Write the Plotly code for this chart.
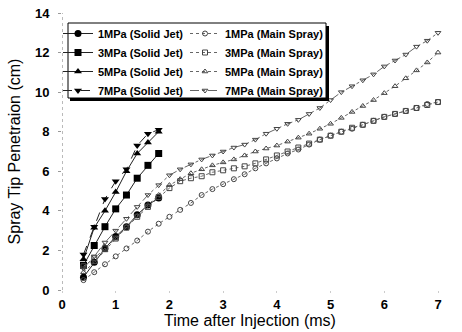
import plotly.graph_objects as go

# ---- data ----
t_solid = [0.4, 0.6, 0.8, 1.0, 1.2, 1.4, 1.6, 1.8]
solid_1mpa = [0.65, 1.4, 2.1, 2.7, 3.2, 3.8, 4.3, 4.65]
solid_3mpa = [1.25, 2.25, 3.2, 4.1, 4.8, 5.65, 6.3, 6.9]
solid_5mpa = [1.55, 3.15, 4.0, 4.95, 6.0, 6.9, 7.45, 8.0]
solid_7mpa = [1.8, 3.2, 4.6, 5.5, 6.1, 7.3, 7.9, 8.1]

t_main = [0.4, 0.6, 0.8, 1.0, 1.2, 1.4, 1.6, 1.8, 2.0, 2.2, 2.4, 2.6, 2.8, 3.0,
          3.2, 3.4, 3.6, 3.8, 4.0, 4.2, 4.4, 4.6, 4.8, 5.0, 5.2, 5.4, 5.6, 5.8,
          6.0, 6.2, 6.4, 6.6, 6.8, 7.0]
main_1mpa = [0.5, 0.9, 1.3, 1.7, 2.1, 2.5, 2.95, 3.35, 3.7, 4.05, 4.4, 4.8, 5.1, 5.35,
             5.6, 5.85, 6.15, 6.4, 6.65, 6.9, 7.1, 7.35, 7.6, 7.8, 8.0, 8.15, 8.35, 8.55,
             8.75, 8.9, 9.05, 9.2, 9.4, 9.5]
main_3mpa = [1.2, 1.6, 2.1, 2.6, 3.15, 3.7, 4.2, 4.7, 5.15, 5.5, 5.65, 5.75, 5.95, 6.05,
             6.15, 6.25, 6.4, 6.6, 6.8, 7.0, 7.2, 7.4, 7.6, 7.8, 8.0, 8.2, 8.35, 8.55,
             8.75, 8.9, 9.05, 9.2, 9.35, 9.5]
main_5mpa = [0.9, 1.4, 2.0, 2.6, 3.2, 3.75, 4.3, 4.8, 5.3, 5.6, 5.9, 6.1, 6.3, 6.45,
             6.6, 6.8, 7.0, 7.15, 7.3, 7.5, 7.7, 7.9, 8.15, 8.4, 8.7, 9.0, 9.3, 9.6,
             9.95, 10.3, 10.7, 11.1, 11.5, 12.0]
main_7mpa = [1.1, 1.7, 2.4, 3.0, 3.6, 4.2, 4.8, 5.3, 5.8, 6.1, 6.35, 6.6, 6.8, 7.0,
             7.2, 7.35, 7.6, 7.9, 8.15, 8.4, 8.6, 8.9, 9.2, 9.6, 10.0, 10.3, 10.6, 10.9,
             11.3, 11.6, 11.9, 12.3, 12.6, 13.0]

solid_names = ["1MPa (Solid Jet)", "3MPa (Solid Jet)", "5MPa (Solid Jet)", "7MPa (Solid Jet)"]
main_names = ["1MPa (Main Spray)", "3MPa (Main Spray)", "5MPa (Main Spray)", "7MPa (Main Spray)"]
y_ticks = [0, 2, 4, 6, 8, 10, 12, 14]
x_ticks = [0, 1, 2, 3, 4, 5, 6, 7]

FONT = "Liberation Sans, Arial, sans-serif"

fig = go.Figure()

solid_series = [solid_1mpa, solid_3mpa, solid_5mpa, solid_7mpa]
solid_symbols = ["circle", "square", "triangle-up", "triangle-down"]
solid_dash = ["solid", "solid", "solid", "dash"]
for name, ys, sym, dash in zip(solid_names, solid_series, solid_symbols, solid_dash):
    fig.add_trace(go.Scatter(
        x=t_solid, y=ys, name=name, mode="lines+markers", legend="legend",
        line=dict(color="#222", width=1, dash=dash),
        marker=dict(symbol=sym, size=7, color="black"),
        cliponaxis=False))

main_series = [main_1mpa, main_3mpa, main_5mpa, main_7mpa]
main_symbols = ["circle-open", "square-open", "triangle-up-open", "triangle-down-open"]
main_dash = ["dot", "dot", "dot", "dashdot"]
for name, ys, sym, dash in zip(main_names, main_series, main_symbols, main_dash):
    fig.add_trace(go.Scatter(
        x=t_main, y=ys, name=name, mode="lines+markers", legend="legend2",
        line=dict(color="#666", width=1, dash=dash),
        marker=dict(symbol=sym, size=5, color="#444", line=dict(width=1, color="#444")),
        cliponaxis=False))

L, R, T, B = 62, 24, 13, 42
W, H = 462, 332
pw, ph = W - L - R, H - T - B

def px(xp):
    return (xp - L) / pw

def py(yp):
    return (H - B - yp) / ph

# legend frame with shadow
fig.add_shape(type="rect", xref="paper", yref="paper",
              x0=px(70), x1=px(329), y0=py(101), y1=py(26),
              fillcolor="black", line=dict(width=0), layer="above")
fig.add_shape(type="rect", xref="paper", yref="paper",
              x0=px(68), x1=px(326), y0=py(98), y1=py(23),
              fillcolor="white", line=dict(width=1, color="black"), layer="above")
# dotted y axis line
fig.add_shape(type="line", xref="x", yref="paper", x0=0, x1=0, y0=0, y1=1,
              line=dict(color="#777", width=1, dash="dot"), layer="below")

legend_common = dict(orientation="v", xanchor="left", yanchor="top",
                     bgcolor="rgba(0,0,0,0)", borderwidth=0,
                     font=dict(family=FONT, size=11, color="black", weight="bold"),
                     itemwidth=30, tracegroupgap=0)
fig.update_layout(
    width=W, height=H,
    margin=dict(l=L, r=R, t=T, b=B, autoexpand=False),
    paper_bgcolor="white", plot_bgcolor="white",
    font=dict(family=FONT, color="black"),
    legend=dict(x=px(58), y=py(19), **legend_common),
    legend2=dict(x=px(185), y=py(19), **legend_common),
    xaxis=dict(range=[0, 7], tickvals=x_ticks, showgrid=False, zeroline=False,
               showline=False, ticks="outside", ticklen=2, tickcolor="#ccc",
               automargin=False,
               tickfont=dict(family=FONT, size=13, color="black", weight="bold"),
               title=dict(text="Time after Injection (ms)", standoff=2,
                          font=dict(family=FONT, size=16, color="black"))),
    yaxis=dict(range=[0, 14], tickvals=y_ticks, showgrid=False, zeroline=False,
               showline=False, ticks="outside", ticklen=3, tickcolor="#999",
               ticklabelstandoff=6, automargin=False,
               tickfont=dict(family=FONT, size=13, color="black", weight="bold"),
               title=dict(text="Spray Tip Penetraion (cm)", standoff=10,
                          font=dict(family=FONT, size=16, color="black"))),
)

fig.write_html("out.html", config={"displayModeBar": False},
               post_script="document.body.style.margin='0px';document.body.style.overflow='hidden';")
